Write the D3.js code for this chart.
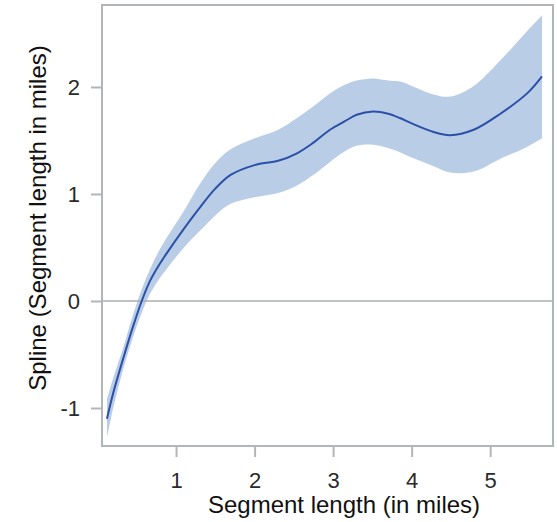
<!DOCTYPE html>
<html>
<head>
<meta charset="utf-8">
<script src="https://cdn.jsdelivr.net/npm/d3@7"></script>
<style>
  body { margin: 0; background: #fff; }
  svg { display: block; font-family: "Liberation Sans", Arial, sans-serif; }
</style>
</head>
<body>
<svg id="chart" width="557" height="522"></svg>
<script>
// spline estimate with confidence band
const segLength = [0.12, 0.2, 0.33, 0.456, 0.563, 0.67, 0.77, 0.88, 1.09, 1.31, 1.5, 1.7, 2.0, 2.3, 2.54, 2.75, 2.96, 3.15, 3.3, 3.51, 3.7, 3.85, 4.0, 4.28, 4.49, 4.79, 5.13, 5.47, 5.66];
const fitValues = [-1.10, -0.86, -0.53, -0.23, 0.0, 0.19, 0.32, 0.445, 0.665, 0.88, 1.05, 1.18, 1.27, 1.31, 1.38, 1.48, 1.60, 1.68, 1.74, 1.77, 1.75, 1.71, 1.66, 1.58, 1.55, 1.60, 1.75, 1.94, 2.10];
const upperValues = [-0.92, -0.72, -0.43, -0.12, 0.11, 0.30, 0.45, 0.59, 0.83, 1.10, 1.29, 1.42, 1.52, 1.60, 1.71, 1.82, 1.94, 2.02, 2.06, 2.08, 2.06, 2.05, 2.01, 1.93, 1.91, 2.01, 2.25, 2.52, 2.67];
const lowerValues = [-1.28, -1.0, -0.63, -0.33, -0.11, 0.07, 0.19, 0.30, 0.49, 0.66, 0.80, 0.91, 0.97, 1.01, 1.08, 1.18, 1.30, 1.40, 1.45, 1.46, 1.43, 1.39, 1.34, 1.26, 1.20, 1.21, 1.33, 1.44, 1.52];
const xTicks = [1, 2, 3, 4, 5];
const yTicks = [-1, 0, 1, 2];

const svg = d3.select('#chart');
const plot = { left: 102, right: 553, top: 5, bottom: 446 };

const x = d3.scaleLinear().domain([0.057, 5.80]).range([plot.left, plot.right]);
const y = d3.scaleLinear().domain([-1.355, 2.766]).range([plot.bottom, plot.top]);

const rows = segLength.map((d, i) => ({ x: d, fit: fitValues[i], lo: lowerValues[i], hi: upperValues[i] }));
const smooth = d3.curveCatmullRom.alpha(0.5);

// confidence band
svg.append('path')
  .datum(rows)
  .attr('fill', '#b9cde6')
  .attr('d', d3.area()
    .x(d => x(d.x))
    .y0(d => y(d.lo))
    .y1(d => y(d.hi))
    .curve(smooth));

// zero reference line
svg.append('line')
  .attr('x1', plot.left).attr('x2', plot.right)
  .attr('y1', y(0)).attr('y2', y(0))
  .attr('stroke', '#a9aeb0')
  .attr('stroke-width', 1.6);

// spline
svg.append('path')
  .datum(rows)
  .attr('fill', 'none')
  .attr('stroke', '#2c50a8')
  .attr('stroke-width', 2)
  .attr('d', d3.line()
    .x(d => x(d.x))
    .y(d => y(d.fit))
    .curve(smooth));

// frame
svg.append('rect')
  .attr('x', plot.left).attr('y', plot.top)
  .attr('width', plot.right - plot.left).attr('height', plot.bottom - plot.top)
  .attr('fill', 'none')
  .attr('stroke', '#b3b6b8')
  .attr('stroke-width', 2);

// axes
const xAxis = svg.append('g')
  .attr('transform', `translate(0,${plot.bottom + 1})`)
  .call(d3.axisBottom(x).tickValues(xTicks).tickSize(10).tickPadding(15).tickFormat(d => String(d)));

const yAxis = svg.append('g')
  .attr('transform', `translate(${plot.left - 1},0)`)
  .call(d3.axisLeft(y).tickValues(yTicks).tickSize(10).tickPadding(11).tickFormat(d => String(d)));

[xAxis, yAxis].forEach(g => {
  g.attr('font-size', null).attr('font-family', null);
  g.select('.domain').remove();
  g.selectAll('.tick line').attr('stroke', '#b3b6b8').attr('stroke-width', 2);
  g.selectAll('.tick text')
    .attr('fill', '#2a2a2a')
    .style('font-size', '22px');
});

// axis titles
svg.append('text')
  .attr('x', 344)
  .attr('y', 513)
  .attr('text-anchor', 'middle')
  .attr('fill', '#111')
  .style('font-size', '24px')
  .text('Segment length (in miles)');

svg.append('text')
  .attr('transform', 'translate(46,218) rotate(-90)')
  .attr('text-anchor', 'middle')
  .attr('fill', '#111')
  .style('font-size', '24px')
  .text('Spline (Segment length in miles)');
</script>
</body>
</html>
